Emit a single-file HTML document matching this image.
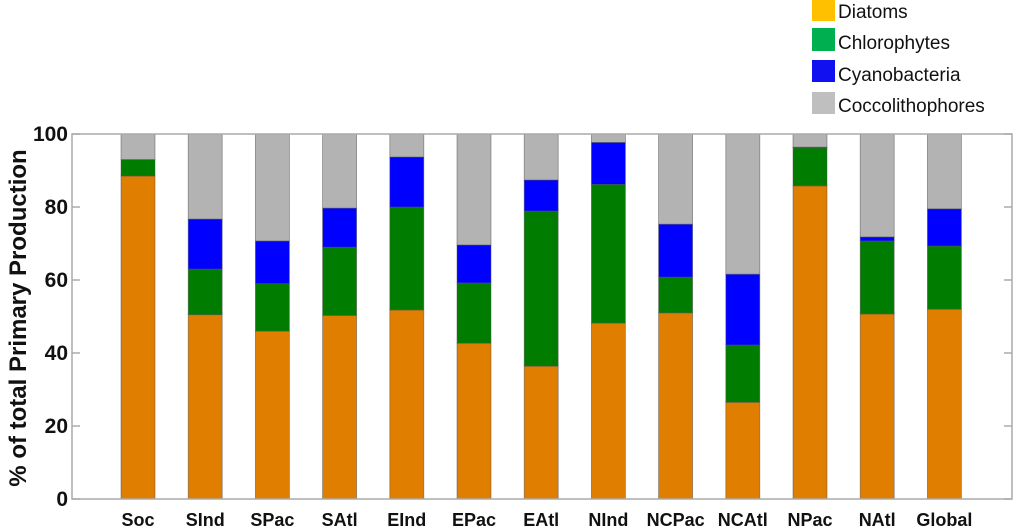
<!DOCTYPE html>
<html><head><meta charset="utf-8"><style>
html,body{margin:0;padding:0;background:#fff;}
svg{display:block;font-family:"Liberation Sans",Arial,sans-serif;}
</style></head><body>
<svg id="chart" width="1024" height="528">
<g id="legend">
<g><rect x="812" y="0" width="23" height="21" fill="#FFC000"/><text x="838" y="18" font-size="19" fill="#111">Diatoms</text></g>
<g><rect x="812" y="28" width="23" height="23" fill="#00B050"/><text x="838" y="49" font-size="19" fill="#111">Chlorophytes</text></g>
<g><rect x="812" y="60" width="23" height="22" fill="#1010F0"/><text x="838" y="81" font-size="19" fill="#111">Cyanobacteria</text></g>
<g><rect x="812" y="92" width="23" height="22" fill="#BFBFBF"/><text x="838" y="112" font-size="19" fill="#111">Coccolithophores</text></g>
</g>
<g id="bars"></g>
<g id="axes"></g>
<text transform="translate(26,318) rotate(-90)" text-anchor="middle" font-size="24" font-weight="bold" fill="#111">% of total Primary Production</text>
</svg>
<script>
const categories=["Soc","SInd","SPac","SAtl","EInd","EPac","EAtl","NInd","NCPac","NCAtl","NPac","NAtl","Global"];
const diatoms=[88.5,50.5,46,50.3,51.8,42.7,36.4,48.2,51,26.5,85.8,50.7,52];
const chlorophytes=[4.5,12.5,13,18.7,28.2,16.5,42.5,38,9.8,15.7,10.4,20,17.3];
const cyanobacteria=[0,13.7,11.7,10.7,13.7,10.4,8.5,11.5,14.5,19.4,0.2,1.1,10.2];
const coccolithophores=[7,23.3,29.3,20.3,6.3,30.4,12.6,2.3,24.7,38.4,3.6,28.2,20.5];
const yTicks=[0,20,40,60,80,100];
const NS="http://www.w3.org/2000/svg";
const L=72,R=1012,T=134,B=499;
function y(v){return B-(v/100)*(B-T);}
function xc(i){return 138+i*67.2;}
const bw=34;
function mk(tag,attrs,parent){const e=document.createElementNS(NS,tag);for(const k in attrs)e.setAttribute(k,attrs[k]);parent.appendChild(e);return e;}
const bars=document.getElementById('bars'),axes=document.getElementById('axes');
const series=[[diatoms,"#E07E00","diatoms"],[chlorophytes,"#007D00","chlorophytes"],[cyanobacteria,"#0000FF","cyanobacteria"],[coccolithophores,"#B3B3B3","coccolithophores"]];
categories.forEach((c,i)=>{
  let base=0;
  series.forEach(([arr,col,nm])=>{
    const v=arr[i];
    const r=mk('rect',{x:xc(i)-bw/2,y:y(base+v),width:bw,height:y(base)-y(base+v),fill:col,stroke:"#555","stroke-width":0.8,"stroke-opacity":0.6},bars);
    
    
    base+=v;
  });
  const t=mk('text',{x:xc(i),y:526,"text-anchor":"middle","font-size":18,"font-weight":"bold",fill:"#111"},axes);
  t.textContent=c;
  
  
});
const frame=mk('rect',{x:L,y:T,width:R-L,height:B-T,fill:"none",stroke:"#aaa","stroke-width":1.5},axes);


yTicks.forEach(v=>{
  mk('line',{x1:L,x2:L+8,y1:y(v),y2:y(v),stroke:"#aaa","stroke-width":1.5},axes);
  mk('line',{x1:R-8,x2:R,y1:y(v),y2:y(v),stroke:"#aaa","stroke-width":1.5},axes);
  const t=mk('text',{x:68,y:y(v)+7,"text-anchor":"end","font-size":21,"font-weight":"bold",fill:"#111"},axes);
  t.textContent=v;
  
  
});
</script>
</body></html>
